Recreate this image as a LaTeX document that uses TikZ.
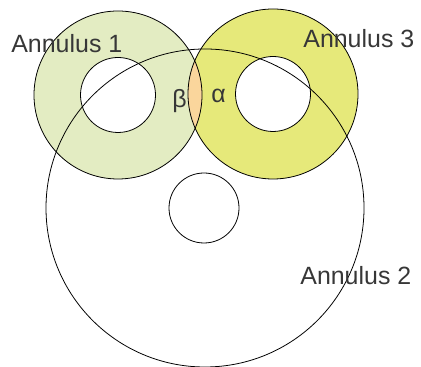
\documentclass[tikz,border=0pt]{standalone}
\usepackage{fontspec}
\setmainfont{Liberation Sans}
\definecolor{ringone}{RGB}{227,236,194}
\definecolor{ringthree}{RGB}{230,233,122}
\definecolor{lensorange}{RGB}{250,214,156}
\definecolor{labelgray}{RGB}{55,55,55}

\begin{document}
\begin{tikzpicture}[
    x=0.02cm, y=0.02cm,
    every node/.style={font=\fontsize{14.2}{17}\selectfont, text=labelgray, inner sep=0pt},
    ring/.style={draw=black, line width=0.45pt},
    greek/.style={font=\fontsize{14.2}{17}\selectfont}
]
    \useasboundingbox (0,0) rectangle (421,367);
    \coordinate (c1) at (118,272);
    \coordinate (c3) at (273,273);
    \coordinate (c2) at (205,159);
    \coordinate (h2) at (204,159);

    % filled rings
    \fill[ringone, even odd rule] (c1) circle (84) (c1) circle (37.5);
    \fill[ringthree, even odd rule] (c3) circle (85) (c3) circle (37.5);
    \begin{scope}
        \clip (c1) circle (84);
        \fill[lensorange] (c3) circle (85);
    \end{scope}

    % outlines
    \draw[ring] (c1) circle (84) (c1) circle (37.5);
    \draw[ring] (c3) circle (85) (c3) circle (37.5);
    \draw[ring] (c2) circle (159) (h2) circle (35);

    % labels
    \node[anchor=base west] (lab1) at (11,314) {Annulus 1};
    \node[anchor=base west] (lab3) at (303,319) {Annulus 3};
    \node[anchor=base west] (lab2) at (300,82) {Annulus 2};
    \node[greek, anchor=base west] (beta) at (172,259) {β};
    \node[greek, anchor=base west] (alpha) at (211,264) {α};
\end{tikzpicture}
\end{document}
